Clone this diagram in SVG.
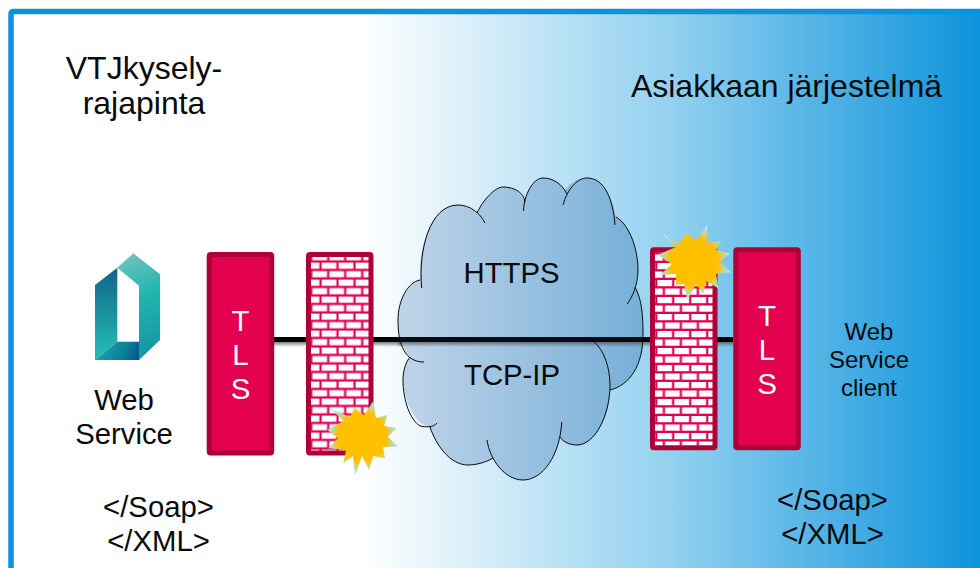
<svg xmlns="http://www.w3.org/2000/svg" width="980" height="568" viewBox="0 0 980 568">
<style>
text{font-family:"Liberation Sans",Arial,sans-serif;fill:#0a0a0a;text-anchor:middle}
.box{fill:#e2004f;stroke:#ae0037;stroke-width:5;stroke-linejoin:round}
.wall{stroke:#ae0037;stroke-width:5;stroke-linejoin:round}
.t{fill:#fff;font-size:29.500px}
.h{font-size:32px}
.m{font-size:29.300px}
.s{font-size:24px}
.cl{fill:none;stroke:#0a0a0a;stroke-width:1}
</style>
<defs>
<linearGradient id="bg" gradientUnits="userSpaceOnUse" x1="14" y1="0" x2="980" y2="0">
<stop offset="0" stop-color="#fff"/><stop offset="0.36" stop-color="#fff"/><stop offset="0.68" stop-color="#93d1ef"/><stop offset="1" stop-color="#0d93db"/>
</linearGradient>
<linearGradient id="cloud" gradientUnits="userSpaceOnUse" x1="398" y1="0" x2="643" y2="0">
<stop offset="0" stop-color="#c0d4e8"/><stop offset="1" stop-color="#76afd8"/>
</linearGradient>
<linearGradient id="shadow" x1="0" y1="0" x2="0" y2="1">
<stop offset="0" stop-color="#555" stop-opacity="0.75"/><stop offset="1" stop-color="#555" stop-opacity="0"/>
</linearGradient>
<pattern id="brick1" patternUnits="userSpaceOnUse" x="321.600" y="262.600" width="17" height="17">
<rect width="17" height="17" fill="#e2004f"/>
<rect x="0" y="0" width="14.800" height="6.200" fill="#fff"/>
<rect x="7.700" y="8.500" width="14.800" height="6.200" fill="#fff"/>
<rect x="-9.300" y="8.500" width="14.800" height="6.200" fill="#fff"/>
</pattern>
<pattern id="brick2" patternUnits="userSpaceOnUse" x="657.300" y="280" width="17" height="17">
<rect width="17" height="17" fill="#e2004f"/>
<rect x="0" y="0" width="14.800" height="6.200" fill="#fff"/>
<rect x="7.700" y="8.500" width="14.800" height="6.200" fill="#fff"/>
<rect x="-9.300" y="8.500" width="14.800" height="6.200" fill="#fff"/>
</pattern>
<radialGradient id="burst1" gradientUnits="userSpaceOnUse" cx="362" cy="437" r="40">
<stop offset="0" stop-color="#ffc000"/><stop offset="0.6" stop-color="#ffc000"/><stop offset="0.85" stop-color="#a9e2d8"/><stop offset="1" stop-color="#d8f2ec"/>
</radialGradient>
<radialGradient id="burst2" gradientUnits="userSpaceOnUse" cx="694" cy="262" r="40">
<stop offset="0" stop-color="#ffc000"/><stop offset="0.6" stop-color="#ffc000"/><stop offset="0.85" stop-color="#a9e2d8"/><stop offset="1" stop-color="#d8f2ec"/>
</radialGradient>
<linearGradient id="lgR" gradientUnits="userSpaceOnUse" x1="120" y1="255" x2="160" y2="350">
<stop offset="0" stop-color="#74c4c0"/><stop offset="0.45" stop-color="#22b5ae"/><stop offset="1" stop-color="#1596a6"/>
</linearGradient>
<linearGradient id="lgL" gradientUnits="userSpaceOnUse" x1="105" y1="272" x2="105" y2="350">
<stop offset="0" stop-color="#13678e"/><stop offset="1" stop-color="#23b6b0"/>
</linearGradient>
<linearGradient id="lgB" gradientUnits="userSpaceOnUse" x1="100" y1="345" x2="140" y2="360">
<stop offset="0" stop-color="#15a3a8"/><stop offset="0.6" stop-color="#0a7f9c"/><stop offset="1" stop-color="#054c85"/>
</linearGradient>
</defs>

<rect id="background" x="14" y="14" width="966" height="554" fill="url(#bg)"/>
<path id="frame" d="M11,568V14Q11,11.500 14,11.500H980" fill="none" stroke="#0d93db" stroke-width="5.500"/>

<g id="connectors">
<rect x="274" y="342" width="459" height="5" fill="url(#shadow)"/>
<rect x="274" y="337" width="459" height="5" fill="#000"/>
</g>

<g id="title-left"><text class="h" x="144" y="79">VTJkysely-</text><text class="h" x="144" y="114">rajapinta</text></g>
<g id="title-right"><text class="h" x="786.500" y="97">Asiakkaan järjestelmä</text></g>

<g id="web-service">
<polygon points="117.300,267.700 133.300,253.300 160,274.300 160,340 139,360 139,285.700" fill="url(#lgR)"/>
<polygon points="95,285 117.300,267.700 117.300,341.700 95,360" fill="url(#lgL)"/>
<polygon points="95,360 117.300,341.700 139,341.700 139,360" fill="url(#lgB)"/>
<text class="m" x="124" y="410">Web</text><text class="m" x="124" y="444">Service</text>
</g>

<g id="tls-left">
<rect class="box" x="209.200" y="254.500" width="62.500" height="198.500" rx="1.500"/>
<text class="t" x="240.500" y="331">T</text><text class="t" x="240.500" y="365">L</text><text class="t" x="240.500" y="399">S</text>
</g>

<g id="firewall-left">
<rect class="wall" fill="url(#brick1)" x="308.500" y="254.500" width="62.500" height="198.500" rx="1.500"/>
</g>

<g id="cloud-node">
<path fill="url(#cloud)" d="M420,280C418,250 430,205 458,205C465,205 472,208 477,213C483,200 495,187 503,187C512,187 520,191 524,200C528,188 535,178 543,178C552,178 560,182 565,190C570,183 577,178 587,178C602,178 612,195 616,217C630,225 638,250 638,270C638,276 637,282 635,287C642,300 643,315 643,335C643,365 630,385 610,390C610,415 595,445 577,445C570,445 563,442 560,437C555,460 540,480 523,480C510,480 498,470 493,458C485,463 475,465 468,465C450,465 436,445 430,427C415,425 403,400 403,380C403,370 406,362 410,357C402,350 398,335 398,320C398,300 408,282 420,280Z"/>
<rect x="398" y="342" width="245" height="5" fill="url(#shadow)"/>
<rect x="398" y="337" width="245" height="5" fill="#020b18"/>
<path class="cl" d="M421.700,288C418,250 430,205 458,205C470,205 480,213 485,223M477,213C483,200 495,187 503,187C515,187 524,193 525,202M523.500,211C524,195 533,178 543,178C553,178 562,184 567,194M563,205C567,190 577,178 587,178C605,178 613,200 615,225M616,217C630,225 638,250 638,270C638,285 632,298 627,304M635,287C642,300 643,315 643,335C643,365 630,385 610,390M593,341C605,350 610,370 610,385C610,415 595,445 577,445C570,445 563,442 560,437M561.700,422C560,455 543,480 523,480C505,480 490,460 487,440M493,458C485,463 475,465 468,465C450,465 436,445 430,427M437,423C433,428 425,427 420,426C410,420 403,400 403,380C403,370 406,362 410,357M424,362C405,362 398,345 398,320C398,300 408,282 420,280"/>
<text class="m" x="511.500" y="283">HTTPS</text><text class="m" x="512" y="385">TCP-IP</text>
</g>

<g id="firewall-right">
<rect class="wall" fill="url(#brick2)" x="652.500" y="249.800" width="62.500" height="198" rx="1.500"/>
</g>

<g id="tls-right">
<rect class="box" x="735.800" y="249.800" width="62.500" height="198" rx="1.500"/>
<text class="t" x="767" y="326">T</text><text class="t" x="767" y="360">L</text><text class="t" x="767" y="394">S</text>
</g>

<g id="burst-left">
<polygon fill="url(#burst1)" points="329.300,407.700 344,421 327.300,430 338,438 328.300,448.300 346,450 343.300,463.300 353,456 355,476 362,456 369.300,470 373,456 385,458.300 383,447 398.300,446.700 387.700,436.700 396.700,428.300 384,425.700 387.700,415 376,418 373.300,401 364,415 354.300,407.700 350,417"/>
</g>
<g id="burst-right">
<polygon fill="url(#burst2)" points="661.700,232.700 676,247 657.300,255 672,264 660,275 676,274 676,285 684,284 687.300,300 696,284 703.300,294 706,281 718.300,288.300 716,274 731,272.300 720,262.300 730,253.300 716,250 720.700,240.700 707,243 707.300,224.700 696,241 686.700,232.700 678,245"/>
</g>

<g id="client"><text class="s" x="869" y="340">Web</text><text class="s" x="869" y="368">Service</text><text class="s" x="869" y="396">client</text></g>
<g id="soap-left"><text class="m" x="158.500" y="517">&lt;/Soap&gt;</text><text class="m" x="158.500" y="551">&lt;/XML&gt;</text></g>
<g id="soap-right"><text class="m" x="832.500" y="510">&lt;/Soap&gt;</text><text class="m" x="832.500" y="544">&lt;/XML&gt;</text></g>
</svg>
